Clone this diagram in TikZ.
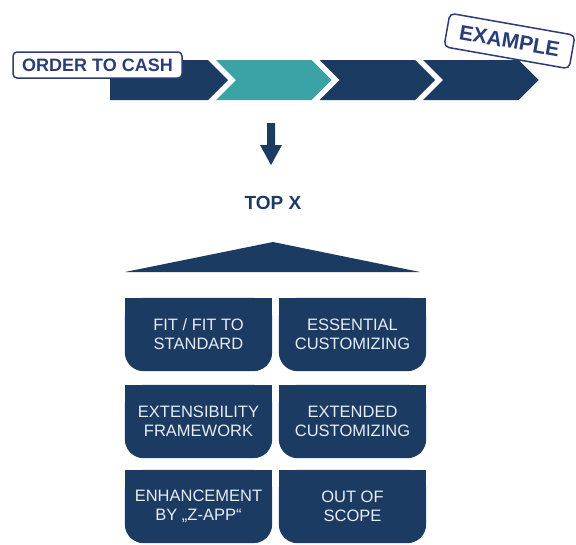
\documentclass[tikz,border=0pt]{standalone}
\usepackage{fontspec}
\setmainfont{Liberation Sans}
\usetikzlibrary{backgrounds}

\definecolor{navy}{HTML}{1B3B62}
\definecolor{tealseg}{HTML}{3BA3A6}
\definecolor{stampblue}{HTML}{2B3C78}
\definecolor{tiletext}{HTML}{E8EDF3}

\tikzset{
  tile/.style={minimum width=147pt, minimum height=73pt, inner sep=0pt,
    align=center, text=tiletext, font=\fontsize{16.5}{19}\selectfont},
  labelbox/.style={draw=stampblue, fill=white, line width=1.5pt,
    rounded corners=4pt, inner sep=0pt, text=stampblue},
}

\begin{document}
\begin{tikzpicture}[x=1pt,y=-1pt]
\useasboundingbox (0,0) rectangle (576,544);

% process chevrons
\fill[navy] (110,60) -- (208,60) -- (228,80) -- (208,100) -- (110,100) -- cycle;
\fill[tealseg] (216,60) -- (311.5,60) -- (331.5,80) -- (311.5,100) -- (216,100) -- (236,80) -- cycle;
\fill[navy] (319.5,60) -- (415,60) -- (435,80) -- (415,100) -- (319.5,100) -- (339.5,80) -- cycle;
\fill[navy] (423,60) -- (518.5,60) -- (538.5,80) -- (518.5,100) -- (423,100) -- (443,80) -- cycle;

% labels on the process bar
\node[labelbox, minimum width=169pt, minimum height=26pt,
  font=\bfseries\fontsize{18}{20}\selectfont] (o2c) at (97.5,65) {ORDER TO CASH};
\node[labelbox, rounded corners=5pt, minimum width=127pt, minimum height=34pt, rotate=-10,
  font=\bfseries\fontsize{21}{23}\selectfont] (example) at (509.5,41) {EXAMPLE};

% down arrow
\fill[navy] (267,123) -- (275,123) -- (275,145) -- (282,145) -- (271,165)
  -- (260,145) -- (267,145) -- cycle;

% heading and roof
\node[text=navy, font=\bfseries\fontsize{19}{21}\selectfont] (top) at (273,203) {TOP X};
\fill[navy] (125,272) -- (273,242) -- (420,272) -- cycle;

% category tiles
\node[tile] (t11) at (198.5,334.5) {FIT / FIT TO\\STANDARD};
\node[tile] (t12) at (352.5,334.5) {ESSENTIAL\\CUSTOMIZING};
\node[tile] (t21) at (198.5,421.5) {EXTENSIBILITY\\FRAMEWORK};
\node[tile] (t22) at (352.5,421.5) {EXTENDED\\CUSTOMIZING};
\node[tile] (t31) at (198.5,506.5) {ENHANCEMENT\\BY „Z-APP“};
\node[tile] (t32) at (352.5,506.5) {OUT OF\\SCOPE};

\begin{scope}[on background layer]
  \foreach \t in {t11,t12,t21,t22,t31,t32}{
    \fill[navy, rounded corners=19pt] (\t.north west) rectangle (\t.south east);
    \fill[navy] (\t.north west) rectangle (\t.east);
  }
\end{scope}
\end{tikzpicture}
\end{document}
